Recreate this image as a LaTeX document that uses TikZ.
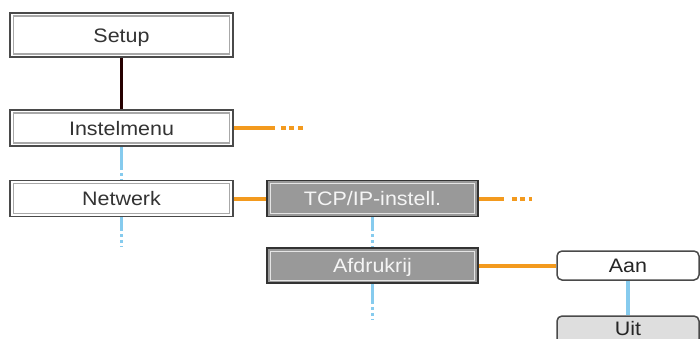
\documentclass[tikz,border=0pt]{standalone}
\usepackage{fontspec}
\newfontfamily\labfont[FakeStretch=1.1]{Liberation Sans}
\definecolor{orng}{HTML}{F39A1E}
\definecolor{skyb}{HTML}{86CBEE}
\definecolor{frame}{HTML}{4A4A4A}
\definecolor{inner}{HTML}{A8A8A8}
\definecolor{gfill}{HTML}{999999}
\definecolor{ltfill}{HTML}{DEDEDE}
\tikzset{
  base/.style={font=\labfont\fontsize{19.5}{22}\selectfont, inner sep=0pt, anchor=center,
    text height=15pt, text depth=1pt},
  whitebox/.style={base, draw=frame, line width=1.8pt, fill=white, text=black!80,
    path picture={\draw[inner, line width=1.1pt]
      ([shift={(3.5pt,-3pt)}]path picture bounding box.north west) rectangle
      ([shift={(-3.5pt,3pt)}]path picture bounding box.south east);}},
  graybox/.style={base, draw=black!80, line width=1.8pt, fill=gfill, text=white!92!gray,
    path picture={\draw[white!80!gray, line width=1pt]
      ([shift={(3.5pt,-3pt)}]path picture bounding box.north west) rectangle
      ([shift={(-3.5pt,3pt)}]path picture bounding box.south east);}},
  roundbox/.style={base, draw=frame, line width=1.5pt, rounded corners=5pt, text=black!85},
  blackline/.style={line width=3.2pt, draw=black!85!red},
  orline/.style={line width=4pt, draw=orng},
  bluedot/.style={line width=3.4pt, draw=skyb},
  blueline/.style={line width=3.4pt, draw=skyb},
}
\begin{document}
\begin{tikzpicture}[x=1pt,y=-1pt]
\useasboundingbox (0,0) rectangle (700,338);
\node[whitebox, minimum width=223pt, minimum height=44pt] (setup) at (121.5,35) {Setup};
\node[whitebox, minimum width=223pt, minimum height=36pt] (inst) at (121.5,128) {Instelmenu};
\node[whitebox, minimum width=223pt, minimum height=36pt] (net) at (121.5,198.5) {Netwerk};
\node[graybox, minimum width=211pt, minimum height=36pt] (tcp) at (372.5,198.5) {TCP/IP-instell.};
\node[graybox, minimum width=211pt, minimum height=35pt] (afd) at (372.5,265.5) {Afdrukrij};
\node[roundbox, fill=white, minimum width=142pt, minimum height=29pt] (aan) at (628,265.5) {Aan};
\node[roundbox, fill=ltfill, minimum width=142pt, minimum height=29pt, text depth=6pt] (uit) at (628,330.5) {Uit};
\coordinate (instend) at (303,128);
\coordinate (tcpend) at (532,198.5);
\coordinate (netend) at (121.5,247);
\coordinate (afdend) at (372.5,320);
\draw[blackline] (setup.south) -- (inst.north);
\draw[orline, dash pattern=on 41pt off 6pt on 5pt off 3.5pt on 5pt off 3.5pt on 5pt off 50pt] (inst.east) -- (instend);
\draw[orline] (net.east) -- (tcp.west);
\draw[orline, dash pattern=on 25pt off 8pt on 5pt off 3.5pt on 5pt off 3.5pt on 5pt off 50pt] (tcp.east) -- (tcpend);
\draw[orline] (afd.east) -- (aan.west);
\draw[bluedot, dash pattern=on 23pt off 3pt on 3pt off 3pt on 3pt off 20pt] (inst.south) -- (net.north);
\draw[bluedot, dash pattern=on 14pt off 3pt on 3pt off 3pt on 3pt off 3pt on 3pt off 20pt] (net.south) -- (netend);
\draw[bluedot, dash pattern=on 14pt off 3pt on 3pt off 3pt on 3pt off 3pt on 3pt off 20pt] (tcp.south) -- (afd.north);
\draw[bluedot, dash pattern=on 20pt off 3pt on 3pt off 3pt on 3pt off 3pt on 3pt off 3pt on 3pt off 20pt] (afd.south) -- (afdend);
\draw[blueline] (aan.south) -- (uit.north);
\end{tikzpicture}
\end{document}
